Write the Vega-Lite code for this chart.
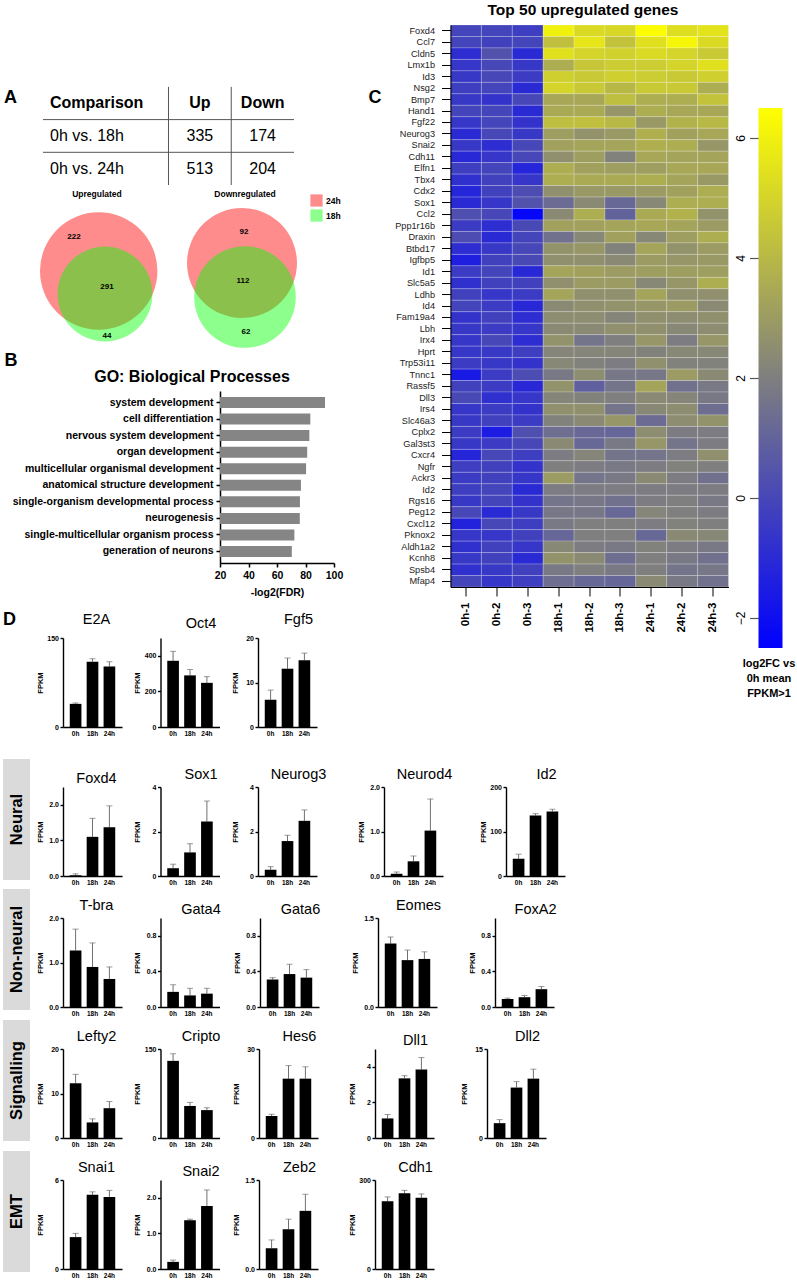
{
"$schema": "https://vega.github.io/schema/vega-lite/v6.json",
"background": "white",
"padding": {"left": 3, "top": 3, "right": 0, "bottom": 0},
"config": {
  "view": {"stroke": null},
  "font": "Liberation Sans",
  "title": {"font": "Liberation Sans", "fontSize": 14.5, "fontWeight": "normal", "color": "#000", "frame": "group", "anchor": "middle"},
  "axis": {"grid": false, "labelColor": "#000", "titleColor": "#000", "domainColor": "#000", "tickColor": "#000"},
  "axisX": {"domainWidth": 1.4, "ticks": false, "labelFontSize": 6.5, "labelFontWeight": "bold", "labelPadding": 3, "labelAngle": 0},
  "axisY": {"domainWidth": 1.4, "tickSize": 3, "tickWidth": 1.4, "labelFontSize": 7, "labelFontWeight": "bold", "labelPadding": 1.5, "titleFontSize": 7.5, "titleFontWeight": "bold", "titlePadding": 3, "minExtent": 16, "maxExtent": 16}
},
"spacing": 16,
"vconcat": [
 {"spacing": 24.5, "hconcat": [
   {"spacing": 13, "vconcat": [
     {"spacing": 3, "resolve": {"scale": {"color": "independent", "size": "independent"}}, "vconcat": [
       {"width": 291, "height": 160,
        "data": {"values": [
          {"row":"hdr","col":"Comparison","label":"Comparison"},
          {"row":"hdr","col":"Up","label":"Up"},
          {"row":"hdr","col":"Down","label":"Down"},
          {"row":"r1","col":"Comparison","label":"0h vs. 18h"},
          {"row":"r1","col":"Up","label":"335"},
          {"row":"r1","col":"Down","label":"174"},
          {"row":"r2","col":"Comparison","label":"0h vs. 24h"},
          {"row":"r2","col":"Up","label":"513"},
          {"row":"r2","col":"Down","label":"204"}
        ]},
        "encoding": {
          "y": {"field":"row","type":"nominal","scale":{"domain":["hdr","r1","r2"],"paddingInner":0,"paddingOuter":0.9465,"align":1},
                "axis":{"title":"A","titleX":7,"titleY":72,"titleAngle":0,"titleAlign":"center","titleBaseline":"middle","titleFontSize":18,"titleFontWeight":"bold","labels":false,"ticks":false,"domain":false,"minExtent":0,"maxExtent":0}}
        },
        "layer": [
          {"transform":[{"filter":"datum.row==='hdr' && datum.col==='Comparison'"}],
           "mark":{"type":"text","align":"left","dx":7,"fontSize":16,"fontWeight":"bold"},
           "encoding":{"x":{"field":"col","type":"nominal","bandPosition":0,"scale":{"domain":["Comparison","c2","Up","Down"],"paddingInner":0,"paddingOuter":0.3187,"align":1},"axis":null},"text":{"field":"label"}}},
          {"transform":[{"filter":"datum.row==='hdr' && datum.col!=='Comparison'"}],
           "mark":{"type":"text","align":"center","fontSize":16,"fontWeight":"bold"},
           "encoding":{"x":{"field":"col","type":"nominal","scale":{"domain":["Comparison","c2","Up","Down"],"paddingInner":0,"paddingOuter":0.3187,"align":1},"axis":null},"text":{"field":"label"}}},
          {"transform":[{"filter":"datum.row!=='hdr' && datum.col==='Comparison'"}],
           "mark":{"type":"text","align":"left","dx":7,"fontSize":16},
           "encoding":{"x":{"field":"col","type":"nominal","bandPosition":0,"scale":{"domain":["Comparison","c2","Up","Down"],"paddingInner":0,"paddingOuter":0.3187,"align":1},"axis":null},"text":{"field":"label"}}},
          {"transform":[{"filter":"datum.row!=='hdr' && datum.col!=='Comparison'"}],
           "mark":{"type":"text","align":"center","fontSize":16},
           "encoding":{"x":{"field":"col","type":"nominal","scale":{"domain":["Comparison","c2","Up","Down"],"paddingInner":0,"paddingOuter":0.3187,"align":1},"axis":null},"text":{"field":"label"}}},
          {"data":{"values":[{"row":"r1","col":"Comparison"},{"row":"r2","col":"Comparison"}]},
           "mark":{"type":"rule","color":"#555","strokeWidth":1},
           "encoding":{"x":{"field":"col","type":"nominal","bandPosition":0,"scale":{"domain":["Comparison","c2","Up","Down"],"paddingInner":0,"paddingOuter":0.3187,"align":1},"axis":null},"x2":{"value":"width"},"y":{"field":"row","type":"nominal","bandPosition":0}}},
          {"data":{"values":[{"row":"hdr","col":"Up"},{"row":"hdr","col":"Down"}]},
           "mark":{"type":"rule","color":"#555","strokeWidth":1},
           "encoding":{"x":{"field":"col","type":"nominal","bandPosition":0,"scale":{"domain":["Comparison","c2","Up","Down"],"paddingInner":0,"paddingOuter":0.3187,"align":1},"axis":null},"y":{"field":"row","type":"nominal","bandPosition":0},"y2":{"value":"height"}}}
        ]
       },
       {"spacing": 10, "resolve": {"scale": {"size": "independent"}}, "hconcat": [
         {"width": 172, "height": 142,
          "title": {"text": "Upregulated", "fontSize": 8.5, "fontWeight": "bold", "dx": 8, "offset": 8},
          "layer": [
            {"data": {"values": [{"set":"24h","n":513,"cx":9.57,"cy":6.5},{"set":"18h","n":335,"cx":10.2,"cy":8.8}]},
             "mark": {"type":"circle","opacity":0.45},
             "encoding": {
               "x": {"field":"cx","type":"quantitative","scale":{"domain":[0,17.2],"nice":false,"zero":false},"axis":null},
               "y": {"field":"cy","type":"quantitative","scale":{"domain":[0,14.2],"nice":false,"zero":false,"reverse":true},"axis":null},
               "size": {"field":"n","type":"quantitative","scale":{"domain":[0,513],"range":[0,13782]},"legend":null},
               "color": {"field":"set","type":"nominal","scale":{"domain":["24h","18h"],"range":["#FF0000","#00FF00"]},
                         "legend":{"title":null,"orient":"none","legendX":307,"legendY":-12,"symbolType":"square","symbolSize":150,"labelFontSize":8.5,"labelFontWeight":"bold","symbolStrokeWidth":0,"labelOffset":3,"rowPadding":2}}
             }},
            {"data": {"values": [{"lab":"222","cx":7.1,"cy":3.1},{"lab":"291","cx":10.4,"cy":8.1},{"lab":"44","cx":10.4,"cy":13.0}]},
             "mark": {"type":"text","fontSize":8,"fontWeight":"bold","color":"#000"},
             "encoding": {"x":{"field":"cx","type":"quantitative"},"y":{"field":"cy","type":"quantitative"},"text":{"field":"lab"}}}
          ]},
         {"width": 120, "height": 142,
          "title": {"text": "Downregulated", "fontSize": 8.5, "fontWeight": "bold", "offset": 8},
          "layer": [
            {"data": {"values": [{"set":"24h","n":204,"cx":5.7,"cy":5.7},{"set":"18h","n":174,"cx":6.0,"cy":9.1}]},
             "mark": {"type":"circle","opacity":0.45},
             "encoding": {
               "x": {"field":"cx","type":"quantitative","scale":{"domain":[0,12],"nice":false,"zero":false},"axis":null},
               "y": {"field":"cy","type":"quantitative","scale":{"domain":[0,14.2],"nice":false,"zero":false,"reverse":true},"axis":null},
               "size": {"field":"n","type":"quantitative","scale":{"domain":[0,204],"range":[0,12100]},"legend":null},
               "color": {"field":"set","type":"nominal","scale":{"domain":["24h","18h"],"range":["#FF0000","#00FF00"]},
                         "legend":{"title":null,"orient":"none","legendX":307,"legendY":-12,"symbolType":"square","symbolSize":150,"labelFontSize":8.5,"labelFontWeight":"bold","symbolStrokeWidth":0,"labelOffset":3,"rowPadding":2}}
             }},
            {"data": {"values": [{"lab":"92","cx":5.9,"cy":2.6},{"lab":"112","cx":5.8,"cy":7.5},{"lab":"62","cx":6.1,"cy":12.6}]},
             "mark": {"type":"text","fontSize":8,"fontWeight":"bold","color":"#000"},
             "encoding": {"x":{"field":"cx","type":"quantitative"},"y":{"field":"cy","type":"quantitative"},"text":{"field":"lab"}}}
          ]}
       ]},
       {"spacing": 0, "hconcat": [
         {"width": 1, "height": 1, "data": {"values": [{"k":1}]}, "mark": {"type":"text","text":""}},
         {"width": 114, "height": 172,
          "title": {"text": "GO: Biological Processes", "fontSize": 16, "fontWeight": "bold", "dx": -85, "dy": 38, "offset": 4},
          "data": {"values": [
            {"term":"system development","v":93.7},
            {"term":"cell differentiation","v":83.4},
            {"term":"nervous system development","v":82.7},
            {"term":"organ development","v":81.2},
            {"term":"multicellular organismal development","v":80.4},
            {"term":"anatomical structure development","v":76.8},
            {"term":"single-organism developmental process","v":76.1},
            {"term":"neurogenesis","v":76.0},
            {"term":"single-multicellular organism process","v":72.2},
            {"term":"generation of neurons","v":70.4}
          ]},
          "mark": {"type":"bar","color":"#858585"},
          "encoding": {
            "y": {"field":"term","type":"nominal","sort":null,"scale":{"paddingInner":0.336,"paddingOuter":0.363},
                  "axis":{"title":"B","titleX":-209.5,"titleY":-31,"titleAngle":0,"titleAlign":"center","titleBaseline":"middle","titleFontSize":18,"titleFontWeight":"bold","labelFontSize":10.5,"labelFontWeight":"bold","labelPadding":3,"labelLimit":400,"tickSize":4,"tickWidth":1.5,"domainWidth":1.5,"minExtent":0,"maxExtent":400}},
            "x": {"field":"v","type":"quantitative","scale":{"domain":[20,100],"nice":false,"zero":false},
                  "axis":{"values":[20,40,60,80,100],"format":"d","title":"-log2(FDR)","titleFontSize":10.5,"titleFontWeight":"bold","titlePadding":7,"labelFontSize":10.5,"labelFontWeight":"bold","labelPadding":3,"ticks":true,"tickSize":4,"tickWidth":1.5,"domainWidth":1.5,"labelFlush":false}},
            "x2": {"datum": 20}
          }}
       ]}
     ]},
     {"spacing": 6, "hconcat": [
       {"width": 27, "height": 100, "title": {"text":"D","anchor":"start","fontSize":18,"fontWeight":"bold","offset":9},
        "data": {"values": [{"k":1}]}, "mark": {"type":"text","text":""}},
       {"spacing": 11.5, "hconcat": [
         {"width":59,"height":89,"title":{"text":"E2A","offset":7,"dx":4},
          "data":{"values":[{"t":"0h","m":39,"e":40.5},{"t":"18h","m":110,"e":115},{"t":"24h","m":102,"e":110}]},
          "encoding":{"x":{"field":"t","type":"nominal","sort":null,"scale":{"paddingInner":0.31,"paddingOuter":0.4},"axis":{"title":null}}},
          "layer":[
           {"mark":{"type":"rule","color":"#707070","strokeWidth":1},"encoding":{"y":{"field":"m","type":"quantitative","scale":{"domain":[0,150],"nice":false},"axis":{"title":"FPKM","values":[0,50,100,150],"format":"d"}},"y2":{"field":"e"}}},
           {"mark":{"type":"tick","color":"#707070","thickness":1,"size":6},"encoding":{"y":{"field":"e","type":"quantitative"}}},
           {"mark":{"type":"bar","color":"#000"},"encoding":{"y":{"field":"m","type":"quantitative"}}}]},
         {"width":59,"height":89,"title":{"text":"Oct4","offset":7,"dx":11},
          "data":{"values":[{"t":"0h","m":372,"e":425},{"t":"18h","m":290,"e":323},{"t":"24h","m":248,"e":283}]},
          "encoding":{"x":{"field":"t","type":"nominal","sort":null,"scale":{"paddingInner":0.31,"paddingOuter":0.4},"axis":{"title":null}}},
          "layer":[
           {"mark":{"type":"rule","color":"#707070","strokeWidth":1},"encoding":{"y":{"field":"m","type":"quantitative","scale":{"domain":[0,500],"nice":false},"axis":{"title":"FPKM","values":[0,100,200,300,400,500],"format":"d"}},"y2":{"field":"e"}}},
           {"mark":{"type":"tick","color":"#707070","thickness":1,"size":6},"encoding":{"y":{"field":"e","type":"quantitative"}}},
           {"mark":{"type":"bar","color":"#000"},"encoding":{"y":{"field":"m","type":"quantitative"}}}]},
         {"width":59,"height":89,"title":{"text":"Fgf5","offset":7,"dx":11},
          "data":{"values":[{"t":"0h","m":6.1,"e":8.3},{"t":"18h","m":13.1,"e":15.5},{"t":"24h","m":15.0,"e":16.6}]},
          "encoding":{"x":{"field":"t","type":"nominal","sort":null,"scale":{"paddingInner":0.31,"paddingOuter":0.4},"axis":{"title":null}}},
          "layer":[
           {"mark":{"type":"rule","color":"#707070","strokeWidth":1},"encoding":{"y":{"field":"m","type":"quantitative","scale":{"domain":[0,20],"nice":false},"axis":{"title":"FPKM","values":[0,5,10,15,20],"format":"d"}},"y2":{"field":"e"}}},
           {"mark":{"type":"tick","color":"#707070","thickness":1,"size":6},"encoding":{"y":{"field":"e","type":"quantitative"}}},
           {"mark":{"type":"bar","color":"#000"},"encoding":{"y":{"field":"m","type":"quantitative"}}}]}
       ]}
     ]}
   ]},
   {"spacing": 5, "hconcat": [
     {"width": 278, "height": 562,
      "title": {"text": "Top 50 upregulated genes", "fontSize": 15.5, "fontWeight": "bold", "dx": -6.5, "offset": 6},
      "data": {"values": [
        {"gene":"Foxd4","0h-1":-0.1,"0h-2":-0.1,"0h-3":-0.3,"18h-1":6.0,"18h-2":5.2,"18h-3":5.1,"24h-1":6.4,"24h-2":5.3,"24h-3":5.5},
        {"gene":"Ccl7","0h-1":-0.1,"0h-2":-0.2,"0h-3":-0.1,"18h-1":4.3,"18h-2":5.6,"18h-3":4.4,"24h-1":5.4,"24h-2":6.2,"24h-3":5.2},
        {"gene":"Cldn5","0h-1":-0.9,"0h-2":0.4,"0h-3":-1.0,"18h-1":5.4,"18h-2":5.0,"18h-3":4.9,"24h-1":5.2,"24h-2":5.0,"24h-3":4.6},
        {"gene":"Lmx1b","0h-1":-0.6,"0h-2":0.0,"0h-3":-0.5,"18h-1":3.6,"18h-2":4.5,"18h-3":4.7,"24h-1":4.7,"24h-2":5.0,"24h-3":5.4},
        {"gene":"Id3","0h-1":-0.5,"0h-2":0.0,"0h-3":-0.4,"18h-1":4.8,"18h-2":4.6,"18h-3":4.8,"24h-1":4.7,"24h-2":4.6,"24h-3":4.8},
        {"gene":"Nsg2","0h-1":-0.3,"0h-2":-0.1,"0h-3":-1.0,"18h-1":5.0,"18h-2":4.6,"18h-3":4.0,"24h-1":4.6,"24h-2":4.6,"24h-3":3.6},
        {"gene":"Bmp7","0h-1":-0.5,"0h-2":-0.7,"0h-3":0.0,"18h-1":3.4,"18h-2":3.4,"18h-3":4.2,"24h-1":3.6,"24h-2":3.6,"24h-3":4.4},
        {"gene":"Hand1","0h-1":-0.1,"0h-2":-0.1,"0h-3":-1.0,"18h-1":3.5,"18h-2":3.5,"18h-3":2.8,"24h-1":3.6,"24h-2":3.4,"24h-3":3.4},
        {"gene":"Fgf22","0h-1":-0.6,"0h-2":-0.1,"0h-3":-0.7,"18h-1":4.2,"18h-2":4.3,"18h-3":4.0,"24h-1":2.9,"24h-2":3.8,"24h-3":4.0},
        {"gene":"Neurog3","0h-1":-1.0,"0h-2":0.0,"0h-3":-0.5,"18h-1":3.1,"18h-2":2.7,"18h-3":2.9,"24h-1":3.7,"24h-2":3.2,"24h-3":3.4},
        {"gene":"Snai2","0h-1":-0.5,"0h-2":-0.9,"0h-3":0.0,"18h-1":3.2,"18h-2":3.3,"18h-3":3.3,"24h-1":3.7,"24h-2":3.6,"24h-3":2.8},
        {"gene":"Cdh11","0h-1":-1.1,"0h-2":-0.6,"0h-3":0.0,"18h-1":2.6,"18h-2":3.1,"18h-3":2.1,"24h-1":3.4,"24h-2":3.3,"24h-3":3.3},
        {"gene":"Elfn1","0h-1":-0.3,"0h-2":-0.1,"0h-3":-1.2,"18h-1":3.6,"18h-2":3.2,"18h-3":3.1,"24h-1":3.1,"24h-2":3.4,"24h-3":3.4},
        {"gene":"Tbx4","0h-1":-0.8,"0h-2":-0.2,"0h-3":-0.6,"18h-1":3.6,"18h-2":3.5,"18h-3":3.5,"24h-1":3.6,"24h-2":3.3,"24h-3":2.9},
        {"gene":"Cdx2","0h-1":-1.2,"0h-2":-0.2,"0h-3":0.2,"18h-1":2.6,"18h-2":2.9,"18h-3":2.9,"24h-1":3.0,"24h-2":3.2,"24h-3":3.6},
        {"gene":"Sox1","0h-1":-1.0,"0h-2":-0.6,"0h-3":0.4,"18h-1":1.3,"18h-2":2.4,"18h-3":1.2,"24h-1":2.3,"24h-2":3.6,"24h-3":3.6},
        {"gene":"Ccl2","0h-1":0.3,"0h-2":0.0,"0h-3":-2.3,"18h-1":2.4,"18h-2":3.6,"18h-3":1.0,"24h-1":3.5,"24h-2":3.8,"24h-3":2.7},
        {"gene":"Ppp1r16b","0h-1":-0.4,"0h-2":-0.9,"0h-3":0.1,"18h-1":3.2,"18h-2":3.2,"18h-3":3.3,"24h-1":3.4,"24h-2":3.3,"24h-3":3.0},
        {"gene":"Draxin","0h-1":0.2,"0h-2":-1.0,"0h-3":-0.1,"18h-1":1.5,"18h-2":2.3,"18h-3":3.2,"24h-1":2.3,"24h-2":3.1,"24h-3":3.6},
        {"gene":"Btbd17","0h-1":-0.9,"0h-2":-0.5,"0h-3":0.0,"18h-1":2.7,"18h-2":2.8,"18h-3":2.1,"24h-1":3.3,"24h-2":2.7,"24h-3":3.0},
        {"gene":"Igfbp5","0h-1":-1.4,"0h-2":-0.2,"0h-3":0.1,"18h-1":2.6,"18h-2":2.6,"18h-3":2.4,"24h-1":3.0,"24h-2":2.8,"24h-3":2.9},
        {"gene":"Id1","0h-1":-0.4,"0h-2":-0.1,"0h-3":-1.1,"18h-1":3.3,"18h-2":3.2,"18h-3":3.0,"24h-1":3.1,"24h-2":3.1,"24h-3":3.1},
        {"gene":"Slc5a5","0h-1":-0.8,"0h-2":-0.2,"0h-3":-0.2,"18h-1":2.6,"18h-2":3.0,"18h-3":3.0,"24h-1":2.3,"24h-2":2.8,"24h-3":3.6},
        {"gene":"Ldhb","0h-1":-0.2,"0h-2":-0.6,"0h-3":-0.4,"18h-1":3.3,"18h-2":2.6,"18h-3":2.6,"24h-1":3.3,"24h-2":2.6,"24h-3":2.6},
        {"gene":"Id4","0h-1":-0.1,"0h-2":-0.4,"0h-3":-1.1,"18h-1":2.4,"18h-2":2.6,"18h-3":2.7,"24h-1":2.8,"24h-2":3.0,"24h-3":2.4},
        {"gene":"Fam19a4","0h-1":-0.7,"0h-2":-0.2,"0h-3":-0.9,"18h-1":2.5,"18h-2":2.5,"18h-3":2.2,"24h-1":2.6,"24h-2":2.5,"24h-3":2.6},
        {"gene":"Lbh","0h-1":-0.5,"0h-2":-0.4,"0h-3":-0.6,"18h-1":2.4,"18h-2":2.4,"18h-3":2.6,"24h-1":2.6,"24h-2":2.3,"24h-3":2.5},
        {"gene":"Irx4","0h-1":-0.6,"0h-2":0.0,"0h-3":-0.9,"18h-1":2.7,"18h-2":1.6,"18h-3":2.0,"24h-1":2.8,"24h-2":1.9,"24h-3":2.8},
        {"gene":"Hprt","0h-1":-0.6,"0h-2":-0.5,"0h-3":-0.3,"18h-1":2.2,"18h-2":2.2,"18h-3":2.2,"24h-1":2.1,"24h-2":2.3,"24h-3":2.3},
        {"gene":"Trp53i11","0h-1":-0.4,"0h-2":-0.5,"0h-3":-0.7,"18h-1":2.3,"18h-2":2.1,"18h-3":1.9,"24h-1":2.6,"24h-2":2.1,"24h-3":2.1},
        {"gene":"Tnnc1","0h-1":-1.6,"0h-2":-0.4,"0h-3":0.2,"18h-1":1.8,"18h-2":2.5,"18h-3":1.7,"24h-1":1.7,"24h-2":3.0,"24h-3":2.4},
        {"gene":"Rassf5","0h-1":-0.2,"0h-2":-0.4,"0h-3":-1.1,"18h-1":2.7,"18h-2":0.9,"18h-3":1.6,"24h-1":3.3,"24h-2":1.5,"24h-3":1.8},
        {"gene":"Dll3","0h-1":0.1,"0h-2":-0.8,"0h-3":-0.6,"18h-1":2.2,"18h-2":2.1,"18h-3":2.0,"24h-1":2.4,"24h-2":2.2,"24h-3":1.8},
        {"gene":"Irs4","0h-1":-0.6,"0h-2":-0.4,"0h-3":-0.7,"18h-1":2.6,"18h-2":2.6,"18h-3":1.6,"24h-1":2.3,"24h-2":2.5,"24h-3":1.4},
        {"gene":"Slc46a3","0h-1":-0.5,"0h-2":-0.2,"0h-3":-0.4,"18h-1":2.1,"18h-2":2.4,"18h-3":2.8,"24h-1":1.3,"24h-2":2.5,"24h-3":2.7},
        {"gene":"Cplx2","0h-1":-0.4,"0h-2":-1.5,"0h-3":0.3,"18h-1":1.4,"18h-2":1.2,"18h-3":1.1,"24h-1":2.5,"24h-2":1.9,"24h-3":1.9},
        {"gene":"Gal3st3","0h-1":-0.5,"0h-2":-0.4,"0h-3":0.0,"18h-1":2.4,"18h-2":1.2,"18h-3":1.8,"24h-1":2.8,"24h-2":1.6,"24h-3":1.9},
        {"gene":"Cxcr4","0h-1":-1.2,"0h-2":0.0,"0h-3":-0.3,"18h-1":1.9,"18h-2":2.2,"18h-3":1.6,"24h-1":1.6,"24h-2":1.9,"24h-3":2.6},
        {"gene":"Ngfr","0h-1":-0.3,"0h-2":-0.2,"0h-3":-0.7,"18h-1":2.0,"18h-2":1.9,"18h-3":1.8,"24h-1":1.9,"24h-2":2.1,"24h-3":2.0},
        {"gene":"Ackr3","0h-1":-0.4,"0h-2":-0.2,"0h-3":-0.6,"18h-1":3.0,"18h-2":1.6,"18h-3":1.8,"24h-1":2.4,"24h-2":1.9,"24h-3":1.5},
        {"gene":"Id2","0h-1":-0.3,"0h-2":-0.1,"0h-3":-1.0,"18h-1":1.9,"18h-2":1.9,"18h-3":1.9,"24h-1":1.9,"24h-2":1.9,"24h-3":1.9},
        {"gene":"Rgs16","0h-1":-0.5,"0h-2":-0.1,"0h-3":-0.7,"18h-1":1.6,"18h-2":1.7,"18h-3":1.5,"24h-1":1.9,"24h-2":2.0,"24h-3":1.8},
        {"gene":"Peg12","0h-1":0.0,"0h-2":-1.0,"0h-3":-0.5,"18h-1":1.7,"18h-2":1.7,"18h-3":1.2,"24h-1":2.2,"24h-2":2.0,"24h-3":1.9},
        {"gene":"Cxcl12","0h-1":-1.3,"0h-2":0.0,"0h-3":-0.3,"18h-1":1.8,"18h-2":2.0,"18h-3":2.0,"24h-1":1.9,"24h-2":2.1,"24h-3":2.0},
        {"gene":"Pknox2","0h-1":-0.6,"0h-2":-0.6,"0h-3":-0.2,"18h-1":1.1,"18h-2":2.0,"18h-3":2.0,"24h-1":1.2,"24h-2":2.4,"24h-3":2.3},
        {"gene":"Aldh1a2","0h-1":-0.8,"0h-2":-0.2,"0h-3":-0.6,"18h-1":2.3,"18h-2":1.9,"18h-3":1.8,"24h-1":2.1,"24h-2":1.9,"24h-3":1.8},
        {"gene":"Kcnh8","0h-1":-0.5,"0h-2":-0.2,"0h-3":-1.0,"18h-1":2.7,"18h-2":2.4,"18h-3":1.4,"24h-1":2.0,"24h-2":1.8,"24h-3":1.5},
        {"gene":"Spsb4","0h-1":-0.8,"0h-2":-0.5,"0h-3":-0.2,"18h-1":1.8,"18h-2":2.0,"18h-3":1.8,"24h-1":2.0,"24h-2":1.6,"24h-3":1.7},
        {"gene":"Mfap4","0h-1":-0.1,"0h-2":-0.6,"0h-3":-0.3,"18h-1":1.4,"18h-2":1.2,"18h-3":1.1,"24h-1":2.4,"24h-2":1.8,"24h-3":1.5}
      ]},
      "transform": [{"fold": ["0h-1","0h-2","0h-3","18h-1","18h-2","18h-3","24h-1","24h-2","24h-3"], "as": ["s","v"]}],
      "mark": {"type":"rect","stroke":"#FFFFFF","strokeWidth":0.7,"strokeOpacity":0.3},
      "encoding": {
        "x": {"field":"s","type":"nominal","sort":["0h-1","0h-2","0h-3","18h-1","18h-2","18h-3","24h-1","24h-2","24h-3"],"scale":{"paddingInner":0,"paddingOuter":0},
              "axis":{"title":null,"labelAngle":-90,"labelFontSize":11.5,"labelFontWeight":"bold","labelPadding":6,"ticks":true,"tickSize":9,"tickWidth":1,"domainWidth":1}},
        "y": {"field":"gene","type":"nominal","sort":null,"scale":{"paddingInner":0,"paddingOuter":0},
              "axis":{"title":"C","titleX":-76,"titleY":72,"titleAngle":0,"titleAlign":"center","titleBaseline":"middle","titleFontSize":18,"titleFontWeight":"bold","labelFontSize":9.2,"labelFontWeight":"normal","labelColor":"#222","labelPadding":7,"tickSize":9,"tickWidth":1,"domainWidth":1,"minExtent":0,"maxExtent":300}},
        "color": {"field":"v","type":"quantitative","scale":{"domain":[-2.5,2,6.5],"range":["#0000FF","#7F7F7F","#FFFF00"],"interpolate":"rgb"},"legend":null}
      }},
     {"width": 24, "height": 623,
      "title": {"text": ["log2FC vs","0h mean","FPKM>1"], "orient": "bottom", "fontSize": 11, "fontWeight": "bold", "lineHeight": 15, "offset": 10, "dx": -1.5},
      "data": {"values": [{"k":"bar","lo":-2.5,"hi":6.5}]},
      "mark": {"type":"rect","fill":{"gradient":"linear","x1":0,"y1":1,"x2":0,"y2":0,"stops":[{"offset":0,"color":"#0000FF"},{"offset":0.5,"color":"#7F7F7F"},{"offset":1,"color":"#FFFF00"}]}},
      "encoding": {
        "x": {"field":"k","type":"nominal","axis":null,"scale":{"paddingInner":0,"paddingOuter":0}},
        "y": {"field":"lo","type":"quantitative","scale":{"domain":[-2.5,7.883],"nice":false,"zero":false},
              "axis":{"values":[-2,0,2,4,6],"format":"d","title":null,"labelAngle":-90,"labelAlign":"center","labelBaseline":"bottom","labelFontSize":12,"labelFontWeight":"normal","labelPadding":2,"tickSize":9,"tickWidth":1.2,"tickColor":"#555","domain":false,"minExtent":0,"maxExtent":60}},
        "y2": {"field":"hi"}
      }}
   ]}
 ]},
 {"spacing": 0, "vconcat": [
   {"spacing": 6, "hconcat": [
     {"width":27,"height":121,"data":{"values":[{"g":"Neural"}]},
      "encoding":{"x":{"field":"g","type":"nominal","axis":null,"scale":{"paddingInner":0,"paddingOuter":0}},"y":{"field":"g","type":"nominal","axis":null,"scale":{"paddingInner":0,"paddingOuter":0}}},
      "layer":[{"mark":{"type":"rect","color":"#DADADA"}},{"mark":{"type":"text","angle":270,"fontSize":16.5,"fontWeight":"bold","color":"#000"},"encoding":{"text":{"field":"g"}}}]},
     {"spacing": 0, "vconcat": [
       {"width": 1, "height": 3, "data": {"values": [{"k":1}]}, "mark": {"type":"text","text":""}},
       {"spacing": 30, "hconcat": [
         {"spacing": 11.5, "hconcat": [
           {"width":59,"height":89,"title":{"text":"Foxd4","offset":1,"dx":4},
            "data":{"values":[{"t":"0h","m":0.02,"e":0.06},{"t":"18h","m":1.1,"e":1.62},{"t":"24h","m":1.37,"e":1.97}]},
            "encoding":{"x":{"field":"t","type":"nominal","sort":null,"scale":{"paddingInner":0.31,"paddingOuter":0.4},"axis":{"title":null}}},
            "layer":[
             {"mark":{"type":"rule","color":"#707070","strokeWidth":1},"encoding":{"y":{"field":"m","type":"quantitative","scale":{"domain":[0,2.5],"nice":false},"axis":{"title":"FPKM","values":[0,0.5,1,1.5,2,2.5],"format":".1f"}},"y2":{"field":"e"}}},
             {"mark":{"type":"tick","color":"#707070","thickness":1,"size":6},"encoding":{"y":{"field":"e","type":"quantitative"}}},
             {"mark":{"type":"bar","color":"#000"},"encoding":{"y":{"field":"m","type":"quantitative"}}}]},
           {"width":59,"height":89,"title":{"text":"Sox1","offset":1,"dx":11},
            "data":{"values":[{"t":"0h","m":0.35,"e":0.53},{"t":"18h","m":1.06,"e":1.45},{"t":"24h","m":2.45,"e":3.37}]},
            "encoding":{"x":{"field":"t","type":"nominal","sort":null,"scale":{"paddingInner":0.31,"paddingOuter":0.4},"axis":{"title":null}}},
            "layer":[
             {"mark":{"type":"rule","color":"#707070","strokeWidth":1},"encoding":{"y":{"field":"m","type":"quantitative","scale":{"domain":[0,4],"nice":false},"axis":{"title":"FPKM","values":[0,1,2,3,4],"format":"d"}},"y2":{"field":"e"}}},
             {"mark":{"type":"tick","color":"#707070","thickness":1,"size":6},"encoding":{"y":{"field":"e","type":"quantitative"}}},
             {"mark":{"type":"bar","color":"#000"},"encoding":{"y":{"field":"m","type":"quantitative"}}}]},
           {"width":59,"height":89,"title":{"text":"Neurog3","offset":1,"dx":11},
            "data":{"values":[{"t":"0h","m":0.28,"e":0.42},{"t":"18h","m":1.57,"e":1.83},{"t":"24h","m":2.48,"e":2.97}]},
            "encoding":{"x":{"field":"t","type":"nominal","sort":null,"scale":{"paddingInner":0.31,"paddingOuter":0.4},"axis":{"title":null}}},
            "layer":[
             {"mark":{"type":"rule","color":"#707070","strokeWidth":1},"encoding":{"y":{"field":"m","type":"quantitative","scale":{"domain":[0,4],"nice":false},"axis":{"title":"FPKM","values":[0,1,2,3,4],"format":"d"}},"y2":{"field":"e"}}},
             {"mark":{"type":"tick","color":"#707070","thickness":1,"size":6},"encoding":{"y":{"field":"e","type":"quantitative"}}},
             {"mark":{"type":"bar","color":"#000"},"encoding":{"y":{"field":"m","type":"quantitative"}}}]}
         ]},
         {"spacing": 26, "hconcat": [
           {"width":59,"height":89,"title":{"text":"Neurod4","offset":1,"dx":11},
            "data":{"values":[{"t":"0h","m":0.05,"e":0.09},{"t":"18h","m":0.33,"e":0.45},{"t":"24h","m":1.02,"e":1.73}]},
            "encoding":{"x":{"field":"t","type":"nominal","sort":null,"scale":{"paddingInner":0.31,"paddingOuter":0.4},"axis":{"title":null}}},
            "layer":[
             {"mark":{"type":"rule","color":"#707070","strokeWidth":1},"encoding":{"y":{"field":"m","type":"quantitative","scale":{"domain":[0,2],"nice":false},"axis":{"title":"FPKM","values":[0,0.5,1,1.5,2],"format":".1f"}},"y2":{"field":"e"}}},
             {"mark":{"type":"tick","color":"#707070","thickness":1,"size":6},"encoding":{"y":{"field":"e","type":"quantitative"}}},
             {"mark":{"type":"bar","color":"#000"},"encoding":{"y":{"field":"m","type":"quantitative"}}}]},
           {"width":59,"height":89,"title":{"text":"Id2","offset":1,"dx":11},
            "data":{"values":[{"t":"0h","m":39,"e":49},{"t":"18h","m":136,"e":140},{"t":"24h","m":145,"e":150}]},
            "encoding":{"x":{"field":"t","type":"nominal","sort":null,"scale":{"paddingInner":0.31,"paddingOuter":0.4},"axis":{"title":null}}},
            "layer":[
             {"mark":{"type":"rule","color":"#707070","strokeWidth":1},"encoding":{"y":{"field":"m","type":"quantitative","scale":{"domain":[0,200],"nice":false},"axis":{"title":"FPKM","values":[0,50,100,150,200],"format":"d"}},"y2":{"field":"e"}}},
             {"mark":{"type":"tick","color":"#707070","thickness":1,"size":6},"encoding":{"y":{"field":"e","type":"quantitative"}}},
             {"mark":{"type":"bar","color":"#000"},"encoding":{"y":{"field":"m","type":"quantitative"}}}]}
         ]}
       ]}
     ]}
   ]},
   {"spacing": 6, "hconcat": [
     {"width":27,"height":121,"data":{"values":[{"g":"Non-neural"}]},
      "encoding":{"x":{"field":"g","type":"nominal","axis":null,"scale":{"paddingInner":0,"paddingOuter":0}},"y":{"field":"g","type":"nominal","axis":null,"scale":{"paddingInner":0,"paddingOuter":0}}},
      "layer":[{"mark":{"type":"rect","color":"#DADADA"}},{"mark":{"type":"text","angle":270,"fontSize":16.5,"fontWeight":"bold","color":"#000"},"encoding":{"text":{"field":"g"}}}]},
     {"spacing": 0, "vconcat": [
       {"width": 1, "height": 6, "data": {"values": [{"k":1}]}, "mark": {"type":"text","text":""}},
       {"spacing": 30, "hconcat": [
         {"spacing": 11.5, "hconcat": [
           {"width":59,"height":89,"title":{"text":"T-bra","offset":1,"dx":4},
            "data":{"values":[{"t":"0h","m":1.27,"e":1.75},{"t":"18h","m":0.9,"e":1.44},{"t":"24h","m":0.63,"e":0.9}]},
            "encoding":{"x":{"field":"t","type":"nominal","sort":null,"scale":{"paddingInner":0.31,"paddingOuter":0.4},"axis":{"title":null}}},
            "layer":[
             {"mark":{"type":"rule","color":"#707070","strokeWidth":1},"encoding":{"y":{"field":"m","type":"quantitative","scale":{"domain":[0,2],"nice":false},"axis":{"title":"FPKM","values":[0,0.5,1,1.5,2],"format":".1f"}},"y2":{"field":"e"}}},
             {"mark":{"type":"tick","color":"#707070","thickness":1,"size":6},"encoding":{"y":{"field":"e","type":"quantitative"}}},
             {"mark":{"type":"bar","color":"#000"},"encoding":{"y":{"field":"m","type":"quantitative"}}}]},
           {"width":59,"height":89,"title":{"text":"Gata4","offset":1,"dx":11},
            "data":{"values":[{"t":"0h","m":0.17,"e":0.25},{"t":"18h","m":0.13,"e":0.21},{"t":"24h","m":0.15,"e":0.21}]},
            "encoding":{"x":{"field":"t","type":"nominal","sort":null,"scale":{"paddingInner":0.31,"paddingOuter":0.4},"axis":{"title":null}}},
            "layer":[
             {"mark":{"type":"rule","color":"#707070","strokeWidth":1},"encoding":{"y":{"field":"m","type":"quantitative","scale":{"domain":[0,1],"nice":false},"axis":{"title":"FPKM","values":[0,0.2,0.4,0.6,0.8,1],"format":".1f"}},"y2":{"field":"e"}}},
             {"mark":{"type":"tick","color":"#707070","thickness":1,"size":6},"encoding":{"y":{"field":"e","type":"quantitative"}}},
             {"mark":{"type":"bar","color":"#000"},"encoding":{"y":{"field":"m","type":"quantitative"}}}]},
           {"width":59,"height":89,"title":{"text":"Gata6","offset":1,"dx":11},
            "data":{"values":[{"t":"0h","m":0.31,"e":0.33},{"t":"18h","m":0.37,"e":0.48},{"t":"24h","m":0.33,"e":0.42}]},
            "encoding":{"x":{"field":"t","type":"nominal","sort":null,"scale":{"paddingInner":0.31,"paddingOuter":0.4},"axis":{"title":null}}},
            "layer":[
             {"mark":{"type":"rule","color":"#707070","strokeWidth":1},"encoding":{"y":{"field":"m","type":"quantitative","scale":{"domain":[0,1],"nice":false},"axis":{"title":"FPKM","values":[0,0.2,0.4,0.6,0.8,1],"format":".1f"}},"y2":{"field":"e"}}},
             {"mark":{"type":"tick","color":"#707070","thickness":1,"size":6},"encoding":{"y":{"field":"e","type":"quantitative"}}},
             {"mark":{"type":"bar","color":"#000"},"encoding":{"y":{"field":"m","type":"quantitative"}}}]}
         ]},
         {"spacing": 26, "hconcat": [
           {"width":59,"height":89,"title":{"text":"Eomes","offset":1,"dx":11},
            "data":{"values":[{"t":"0h","m":1.07,"e":1.18},{"t":"18h","m":0.79,"e":0.96},{"t":"24h","m":0.81,"e":0.93}]},
            "encoding":{"x":{"field":"t","type":"nominal","sort":null,"scale":{"paddingInner":0.31,"paddingOuter":0.4},"axis":{"title":null}}},
            "layer":[
             {"mark":{"type":"rule","color":"#707070","strokeWidth":1},"encoding":{"y":{"field":"m","type":"quantitative","scale":{"domain":[0,1.5],"nice":false},"axis":{"title":"FPKM","values":[0,0.5,1,1.5],"format":".1f"}},"y2":{"field":"e"}}},
             {"mark":{"type":"tick","color":"#707070","thickness":1,"size":6},"encoding":{"y":{"field":"e","type":"quantitative"}}},
             {"mark":{"type":"bar","color":"#000"},"encoding":{"y":{"field":"m","type":"quantitative"}}}]},
           {"width":59,"height":89,"title":{"text":"FoxA2","offset":1,"dx":11},
            "data":{"values":[{"t":"0h","m":0.09,"e":0.1},{"t":"18h","m":0.11,"e":0.13},{"t":"24h","m":0.2,"e":0.23}]},
            "encoding":{"x":{"field":"t","type":"nominal","sort":null,"scale":{"paddingInner":0.31,"paddingOuter":0.4},"axis":{"title":null}}},
            "layer":[
             {"mark":{"type":"rule","color":"#707070","strokeWidth":1},"encoding":{"y":{"field":"m","type":"quantitative","scale":{"domain":[0,1],"nice":false},"axis":{"title":"FPKM","values":[0,0.2,0.4,0.6,0.8,1],"format":".1f"}},"y2":{"field":"e"}}},
             {"mark":{"type":"tick","color":"#707070","thickness":1,"size":6},"encoding":{"y":{"field":"e","type":"quantitative"}}},
             {"mark":{"type":"bar","color":"#000"},"encoding":{"y":{"field":"m","type":"quantitative"}}}]}
         ]}
       ]}
     ]}
   ]},
   {"spacing": 6, "hconcat": [
     {"width":27,"height":121,"data":{"values":[{"g":"Signalling"}]},
      "encoding":{"x":{"field":"g","type":"nominal","axis":null,"scale":{"paddingInner":0,"paddingOuter":0}},"y":{"field":"g","type":"nominal","axis":null,"scale":{"paddingInner":0,"paddingOuter":0}}},
      "layer":[{"mark":{"type":"rect","color":"#DADADA"}},{"mark":{"type":"text","angle":270,"fontSize":16.5,"fontWeight":"bold","color":"#000"},"encoding":{"text":{"field":"g"}}}]},
     {"spacing": 0, "vconcat": [
       {"width": 1, "height": 6, "data": {"values": [{"k":1}]}, "mark": {"type":"text","text":""}},
       {"spacing": 30, "hconcat": [
         {"spacing": 11.5, "hconcat": [
           {"width":59,"height":89,"title":{"text":"Lefty2","offset":1,"dx":4},
            "data":{"values":[{"t":"0h","m":12.3,"e":14.3},{"t":"18h","m":3.5,"e":4.3},{"t":"24h","m":6.7,"e":8.2}]},
            "encoding":{"x":{"field":"t","type":"nominal","sort":null,"scale":{"paddingInner":0.31,"paddingOuter":0.4},"axis":{"title":null}}},
            "layer":[
             {"mark":{"type":"rule","color":"#707070","strokeWidth":1},"encoding":{"y":{"field":"m","type":"quantitative","scale":{"domain":[0,20],"nice":false},"axis":{"title":"FPKM","values":[0,5,10,15,20],"format":"d"}},"y2":{"field":"e"}}},
             {"mark":{"type":"tick","color":"#707070","thickness":1,"size":6},"encoding":{"y":{"field":"e","type":"quantitative"}}},
             {"mark":{"type":"bar","color":"#000"},"encoding":{"y":{"field":"m","type":"quantitative"}}}]},
           {"width":59,"height":89,"title":{"text":"Cripto","offset":1,"dx":11},
            "data":{"values":[{"t":"0h","m":130,"e":142},{"t":"18h","m":54,"e":60},{"t":"24h","m":47,"e":51}]},
            "encoding":{"x":{"field":"t","type":"nominal","sort":null,"scale":{"paddingInner":0.31,"paddingOuter":0.4},"axis":{"title":null}}},
            "layer":[
             {"mark":{"type":"rule","color":"#707070","strokeWidth":1},"encoding":{"y":{"field":"m","type":"quantitative","scale":{"domain":[0,150],"nice":false},"axis":{"title":"FPKM","values":[0,50,100,150],"format":"d"}},"y2":{"field":"e"}}},
             {"mark":{"type":"tick","color":"#707070","thickness":1,"size":6},"encoding":{"y":{"field":"e","type":"quantitative"}}},
             {"mark":{"type":"bar","color":"#000"},"encoding":{"y":{"field":"m","type":"quantitative"}}}]},
           {"width":59,"height":89,"title":{"text":"Hes6","offset":1,"dx":11},
            "data":{"values":[{"t":"0h","m":7.4,"e":8.0},{"t":"18h","m":20,"e":24.4},{"t":"24h","m":20,"e":24}]},
            "encoding":{"x":{"field":"t","type":"nominal","sort":null,"scale":{"paddingInner":0.31,"paddingOuter":0.4},"axis":{"title":null}}},
            "layer":[
             {"mark":{"type":"rule","color":"#707070","strokeWidth":1},"encoding":{"y":{"field":"m","type":"quantitative","scale":{"domain":[0,30],"nice":false},"axis":{"title":"FPKM","values":[0,10,20,30],"format":"d"}},"y2":{"field":"e"}}},
             {"mark":{"type":"tick","color":"#707070","thickness":1,"size":6},"encoding":{"y":{"field":"e","type":"quantitative"}}},
             {"mark":{"type":"bar","color":"#000"},"encoding":{"y":{"field":"m","type":"quantitative"}}}]}
         ]},
         {"spacing": 26, "hconcat": [
           {"width":59,"height":89,"title":{"text":"Dll1","offset":1,"dx":11},
            "data":{"values":[{"t":"0h","m":1.1,"e":1.32},{"t":"18h","m":3.35,"e":3.5},{"t":"24h","m":3.85,"e":4.52}]},
            "encoding":{"x":{"field":"t","type":"nominal","sort":null,"scale":{"paddingInner":0.31,"paddingOuter":0.4},"axis":{"title":null}}},
            "layer":[
             {"mark":{"type":"rule","color":"#707070","strokeWidth":1},"encoding":{"y":{"field":"m","type":"quantitative","scale":{"domain":[0,5],"nice":false},"axis":{"title":"FPKM","values":[0,1,2,3,4,5],"format":"d"}},"y2":{"field":"e"}}},
             {"mark":{"type":"tick","color":"#707070","thickness":1,"size":6},"encoding":{"y":{"field":"e","type":"quantitative"}}},
             {"mark":{"type":"bar","color":"#000"},"encoding":{"y":{"field":"m","type":"quantitative"}}}]},
           {"width":59,"height":89,"title":{"text":"Dll2","offset":1,"dx":11},
            "data":{"values":[{"t":"0h","m":2.5,"e":3.1},{"t":"18h","m":8.5,"e":9.5},{"t":"24h","m":10,"e":11.6}]},
            "encoding":{"x":{"field":"t","type":"nominal","sort":null,"scale":{"paddingInner":0.31,"paddingOuter":0.4},"axis":{"title":null}}},
            "layer":[
             {"mark":{"type":"rule","color":"#707070","strokeWidth":1},"encoding":{"y":{"field":"m","type":"quantitative","scale":{"domain":[0,15],"nice":false},"axis":{"title":"FPKM","values":[0,5,10,15],"format":"d"}},"y2":{"field":"e"}}},
             {"mark":{"type":"tick","color":"#707070","thickness":1,"size":6},"encoding":{"y":{"field":"e","type":"quantitative"}}},
             {"mark":{"type":"bar","color":"#000"},"encoding":{"y":{"field":"m","type":"quantitative"}}}]}
         ]}
       ]}
     ]}
   ]},
   {"spacing": 6, "hconcat": [
     {"width":27,"height":121,"data":{"values":[{"g":"EMT"}]},
      "encoding":{"x":{"field":"g","type":"nominal","axis":null,"scale":{"paddingInner":0,"paddingOuter":0}},"y":{"field":"g","type":"nominal","axis":null,"scale":{"paddingInner":0,"paddingOuter":0}}},
      "layer":[{"mark":{"type":"rect","color":"#DADADA"}},{"mark":{"type":"text","angle":270,"fontSize":16.5,"fontWeight":"bold","color":"#000"},"encoding":{"text":{"field":"g"}}}]},
     {"spacing": 0, "vconcat": [
       {"width": 1, "height": 6, "data": {"values": [{"k":1}]}, "mark": {"type":"text","text":""}},
       {"spacing": 30, "hconcat": [
         {"spacing": 11.5, "hconcat": [
           {"width":59,"height":89,"title":{"text":"Snai1","offset":1,"dx":4},
            "data":{"values":[{"t":"0h","m":2.15,"e":2.4},{"t":"18h","m":5.0,"e":5.2},{"t":"24h","m":4.85,"e":5.3}]},
            "encoding":{"x":{"field":"t","type":"nominal","sort":null,"scale":{"paddingInner":0.31,"paddingOuter":0.4},"axis":{"title":null}}},
            "layer":[
             {"mark":{"type":"rule","color":"#707070","strokeWidth":1},"encoding":{"y":{"field":"m","type":"quantitative","scale":{"domain":[0,6],"nice":false},"axis":{"title":"FPKM","values":[0,2,4,6],"format":"d"}},"y2":{"field":"e"}}},
             {"mark":{"type":"tick","color":"#707070","thickness":1,"size":6},"encoding":{"y":{"field":"e","type":"quantitative"}}},
             {"mark":{"type":"bar","color":"#000"},"encoding":{"y":{"field":"m","type":"quantitative"}}}]},
           {"width":59,"height":89,"title":{"text":"Snai2","offset":1,"dx":11},
            "data":{"values":[{"t":"0h","m":0.2,"e":0.25},{"t":"18h","m":1.37,"e":1.4},{"t":"24h","m":1.77,"e":2.22}]},
            "encoding":{"x":{"field":"t","type":"nominal","sort":null,"scale":{"paddingInner":0.31,"paddingOuter":0.4},"axis":{"title":null}}},
            "layer":[
             {"mark":{"type":"rule","color":"#707070","strokeWidth":1},"encoding":{"y":{"field":"m","type":"quantitative","scale":{"domain":[0,2.5],"nice":false},"axis":{"title":"FPKM","values":[0,0.5,1,1.5,2,2.5],"format":".1f"}},"y2":{"field":"e"}}},
             {"mark":{"type":"tick","color":"#707070","thickness":1,"size":6},"encoding":{"y":{"field":"e","type":"quantitative"}}},
             {"mark":{"type":"bar","color":"#000"},"encoding":{"y":{"field":"m","type":"quantitative"}}}]},
           {"width":59,"height":89,"title":{"text":"Zeb2","offset":1,"dx":11},
            "data":{"values":[{"t":"0h","m":0.35,"e":0.49},{"t":"18h","m":0.67,"e":0.84},{"t":"24h","m":0.98,"e":1.26}]},
            "encoding":{"x":{"field":"t","type":"nominal","sort":null,"scale":{"paddingInner":0.31,"paddingOuter":0.4},"axis":{"title":null}}},
            "layer":[
             {"mark":{"type":"rule","color":"#707070","strokeWidth":1},"encoding":{"y":{"field":"m","type":"quantitative","scale":{"domain":[0,1.5],"nice":false},"axis":{"title":"FPKM","values":[0,0.5,1,1.5],"format":".1f"}},"y2":{"field":"e"}}},
             {"mark":{"type":"tick","color":"#707070","thickness":1,"size":6},"encoding":{"y":{"field":"e","type":"quantitative"}}},
             {"mark":{"type":"bar","color":"#000"},"encoding":{"y":{"field":"m","type":"quantitative"}}}]}
         ]},
         {"width":59,"height":89,"title":{"text":"Cdh1","offset":1,"dx":11},
          "data":{"values":[{"t":"0h","m":228,"e":243},{"t":"18h","m":255,"e":265},{"t":"24h","m":240,"e":253}]},
          "encoding":{"x":{"field":"t","type":"nominal","sort":null,"scale":{"paddingInner":0.31,"paddingOuter":0.4},"axis":{"title":null}}},
          "layer":[
           {"mark":{"type":"rule","color":"#707070","strokeWidth":1},"encoding":{"y":{"field":"m","type":"quantitative","scale":{"domain":[0,300],"nice":false},"axis":{"title":"FPKM","values":[0,100,200,300],"format":"d"}},"y2":{"field":"e"}}},
           {"mark":{"type":"tick","color":"#707070","thickness":1,"size":6},"encoding":{"y":{"field":"e","type":"quantitative"}}},
           {"mark":{"type":"bar","color":"#000"},"encoding":{"y":{"field":"m","type":"quantitative"}}}]}
       ]}
     ]}
   ]}
 ]}
]
}
